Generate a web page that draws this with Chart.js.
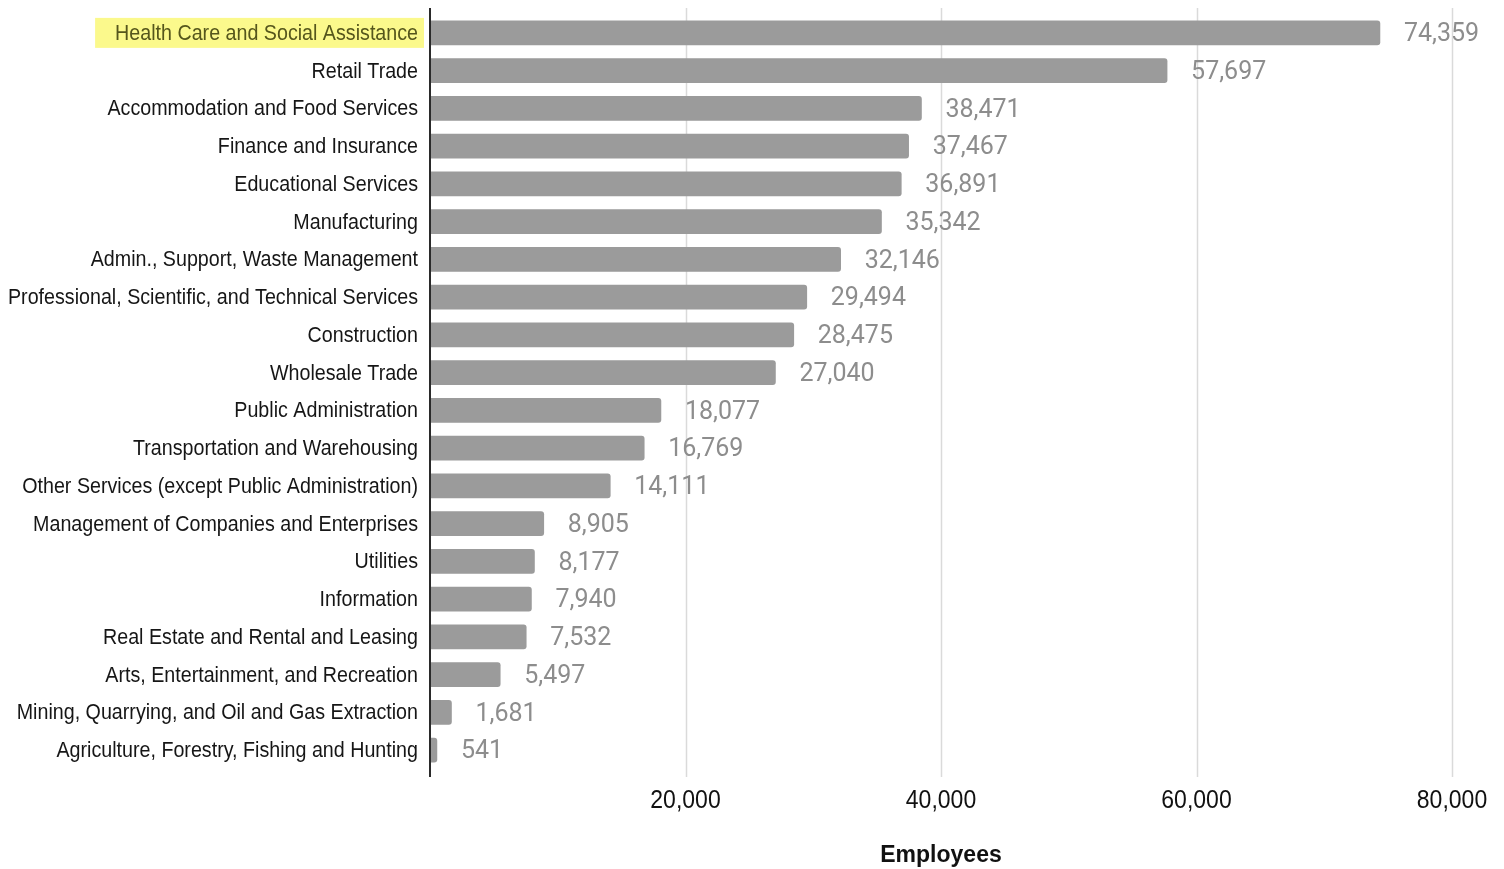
<!DOCTYPE html>
<html>
<head>
<meta charset="utf-8">
<script src="https://cdn.jsdelivr.net/npm/chart.js@4.4.1/dist/chart.umd.min.js"></script>
<style>
  html, body { margin: 0; padding: 0; background: #fff; }
  #wrap { width: 1504px; height: 869px; }
</style>
</head>
<body>
<div id="wrap"><canvas id="chart"></canvas></div>
<script>
const categories = [
  'Health Care and Social Assistance',
  'Retail Trade',
  'Accommodation and Food Services',
  'Finance and Insurance',
  'Educational Services',
  'Manufacturing',
  'Admin., Support, Waste Management',
  'Professional, Scientific, and Technical Services',
  'Construction',
  'Wholesale Trade',
  'Public Administration',
  'Transportation and Warehousing',
  'Other Services (except Public Administration)',
  'Management of Companies and Enterprises',
  'Utilities',
  'Information',
  'Real Estate and Rental and Leasing',
  'Arts, Entertainment, and Recreation',
  'Mining, Quarrying, and Oil and Gas Extraction',
  'Agriculture, Forestry, Fishing and Hunting'
];
const employees = [74359, 57697, 38471, 37467, 36891, 35342, 32146, 29494, 28475, 27040,
                   18077, 16769, 14111, 8905, 8177, 7940, 7532, 5497, 1681, 541];
const highlighted = 0; // index of the highlighted category label
const axisTitle = 'Employees';

const labelFont = "'Liberation Sans', Arial, sans-serif";
// the labels in the original are a little condensed, so they are drawn squeezed
const catFont = '21.5px ' + labelFont, catSqueeze = 0.915;
const tickFont = '25px ' + labelFont, tickSqueeze = 0.92;

function squeezedText(ctx, text, x, y, sx) {
  ctx.save();
  ctx.translate(x, y);
  ctx.scale(sx, 1);
  ctx.fillText(text, 0, 0);
  ctx.restore();
}

const decorations = {
  id: 'decorations',
  beforeDraw(chart) {
    // yellow marker behind the highlighted label
    const {ctx, scales: {y}} = chart;
    ctx.save();
    const yc = y.getPixelForTick(highlighted);
    ctx.font = catFont;
    const w = ctx.measureText(categories[highlighted]).width * catSqueeze;
    const right = y.right - 12;
    ctx.fillStyle = '#fbf98c';
    ctx.fillRect(right - w - 20, yc - 15, w + 26, 30);
    ctx.restore();
  },
  beforeDatasetsDraw(chart) {
    // grid lines, a bit longer than the plot area
    const {ctx, chartArea, scales: {x}} = chart;
    ctx.save();
    ctx.strokeStyle = '#dadada';
    ctx.lineWidth = 1.5;
    x.ticks.forEach(t => {
      if (t.value === 0) return;
      const px = Math.round(x.getPixelForValue(t.value)) + 0.5;
      ctx.beginPath();
      ctx.moveTo(px, chartArea.top - 6);
      ctx.lineTo(px, chartArea.bottom + 8);
      ctx.stroke();
    });
    ctx.restore();
  },
  afterDatasetsDraw(chart) {
    const {ctx, chartArea, scales: {x, y}} = chart;
    ctx.save();
    // value labels
    ctx.font = "25px Roboto, 'Liberation Sans', sans-serif";
    ctx.fillStyle = '#8d8d8d';
    ctx.textAlign = 'left';
    ctx.textBaseline = 'middle';
    chart.getDatasetMeta(0).data.forEach((bar, i) => {
      ctx.fillText(employees[i].toLocaleString('en-US'), bar.x + 24, bar.y + 2);
    });
    // category labels
    ctx.font = catFont;
    ctx.textAlign = 'right';
    categories.forEach((c, i) => {
      ctx.fillStyle = i === highlighted ? '#55561c' : '#161616';
      squeezedText(ctx, c, y.right - 12, y.getPixelForTick(i) + 1, catSqueeze);
    });
    // x tick labels
    ctx.font = tickFont;
    ctx.textAlign = 'center';
    ctx.fillStyle = '#111';
    x.ticks.forEach(t => {
      if (t.value === 0) return;
      squeezedText(ctx, t.value.toLocaleString('en-US'), x.getPixelForValue(t.value), chartArea.bottom + 32, tickSqueeze);
    });
    // axis line
    const px = x.getPixelForValue(0);
    ctx.strokeStyle = '#2a2a2a';
    ctx.lineWidth = 2;
    ctx.beginPath();
    ctx.moveTo(px, chartArea.top - 6);
    ctx.lineTo(px, chartArea.bottom + 8);
    ctx.stroke();
    ctx.restore();
  }
};

new Chart(document.getElementById('chart'), {
  type: 'bar',
  data: {
    labels: categories,
    datasets: [{
      data: employees,
      backgroundColor: '#9b9b9b',
      borderRadius: 3,
      borderSkipped: 'start',
      barThickness: 24
    }]
  },
  plugins: [decorations],
  options: {
    indexAxis: 'y',
    responsive: true,
    maintainAspectRatio: false,
    animation: false,
    layout: { padding: { top: 14, right: 52, bottom: 0, left: 0 } },
    plugins: {
      legend: { display: false },
      tooltip: { enabled: false }
    },
    scales: {
      x: {
        min: 0,
        max: 80000,
        afterFit(scale) { scale.height = 100; },
        grid: { display: false },
        border: { display: false },
        ticks: { stepSize: 20000, display: false },
        title: {
          display: true,
          text: axisTitle,
          color: '#111',
          padding: { top: 0, bottom: 0 },
          font: { family: labelFont, size: 23, weight: 'bold' }
        }
      },
      y: {
        afterFit(scale) {
          scale.width = 430;
          scale.paddingTop = 0;
          scale.paddingBottom = 0;
        },
        grid: { display: false, drawTicks: false },
        border: { display: false },
        ticks: { display: false, autoSkip: false }
      }
    }
  }
});
</script>
</body>
</html>
